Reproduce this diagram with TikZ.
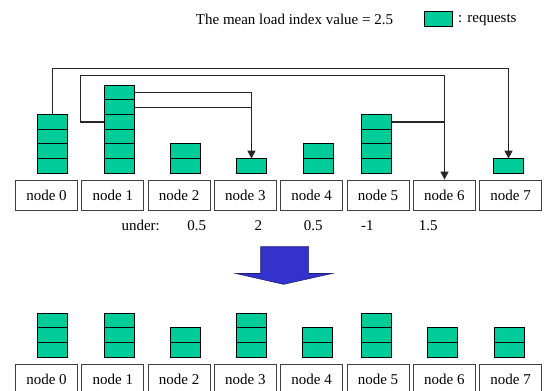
\documentclass[tikz,border=0pt]{standalone}
\usepackage{fontspec}
\setmainfont{Liberation Serif}
\usetikzlibrary{arrows.meta}
\definecolor{req}{HTML}{00CC99}
\definecolor{bigarrow}{HTML}{3333CC}
\definecolor{boxline}{HTML}{404040}
\tikzset{
  nodebox/.style={draw=boxline, line width=0.9pt, minimum width=62pt, minimum height=30pt,
    inner sep=0pt, font=\fontsize{15}{18}\selectfont},
  block/.style={draw=black, line width=0.9pt, fill=req, minimum width=30pt, minimum height=14.7pt,
    inner sep=0pt, outer sep=0pt},
  conn/.style={draw=black!85, line width=1.3pt},
  connarrow/.style={conn, -{Triangle[length=8pt,width=8pt]}},
  label/.style={font=\fontsize{15}{18}\selectfont, inner sep=0pt}
}
% a stack of request blocks: \reqstack{name}{x}{bottom y}{count}
\newcommand{\reqstack}[4]{%
  \foreach \k in {1,...,#4}{%
    \node[block, anchor=south] (#1-\k) at (#2, #3-14.7*\k+14.7) {};
  }%
}
\begin{document}
\begin{tikzpicture}[x=1pt,y=-1pt]
\useasboundingbox (0,0) rectangle (555,391);

% legend
\node[label] (mean) at (294.5,19) {The mean load index value = 2.5};
\node[block, minimum width=28pt, minimum height=14.3pt] (legbox) at (438,19) {};
\node[label, anchor=west] (legtext) at (458,19.5) {: requests};

% upper row of nodes
\foreach \i/\x in {0/46.5,1/112.8,2/179.1,3/245.4,4/311.7,5/378,6/444.3,7/510.6}{
  \node[nodebox] (t\i) at (\x,195) {node \i};
}
% lower row of nodes
\foreach \i/\x in {0/46.5,1/112.8,2/179.1,3/245.4,4/311.7,5/378,6/444.3,7/510.6}{
  \node[nodebox] (u\i) at (\x,379) {node \i};
}

% request stacks before balancing
\reqstack{a0}{52.5}{173.3}{4}
\reqstack{a1}{119}{173.3}{6}
\reqstack{a2}{185.5}{173.3}{2}
\reqstack{a3}{251.5}{173.3}{1}
\reqstack{a4}{318}{173.3}{2}
\reqstack{a5}{376.5}{173.3}{4}
\reqstack{a7}{508.5}{173.3}{1}

% request stacks after balancing
\reqstack{b0}{52.7}{357.3}{3}
\reqstack{b1}{119}{357.3}{3}
\reqstack{b2}{185.5}{357.3}{2}
\reqstack{b3}{251.7}{357.3}{3}
\reqstack{b4}{317.5}{357.3}{2}
\reqstack{b5}{376.5}{357.3}{3}
\reqstack{b6}{442.5}{357.3}{2}
\reqstack{b7}{509}{357.3}{2}

% routing levels of the migration paths
\coordinate (lvl0) at (0,68.5);
\coordinate (lvl1) at (0,75.5);
\coordinate (left1) at (80.5,0);
\coordinate (col3) at (251.5,0);
\coordinate (col6) at (444.5,0);

% node 0 -> node 7
\draw[connarrow] (a0-4.north) -- (a0-4.north |- lvl0) -- (a7-1.north |- lvl0) -- (a7-1.north);
% node 1 -> node 6
\draw[connarrow] (a1-4.west) -- (left1 |- a1-4.west) -- (left1 |- lvl1) -- (col6 |- lvl1) -- (col6 |- t6.north);
% node 1 -> node 3
\draw[connarrow] (a1-6.east) -- (col3 |- a1-6.east) -- (a3-1.north);
\draw[conn] (a1-5.east) -- (col3 |- a1-5.east);
% node 5 -> node 6
\draw[conn] (a5-4.east) -- (col6 |- a5-4.east);

% surplus of each node
\node[label] (under) at (140.7,225.7) {under:};
\node[label] (s2) at (196.7,225.7) {0.5};
\node[label] (s3) at (258.3,225.7) {2};
\node[label] (s4) at (313.3,225.7) {0.5};
\node[label] (s5) at (367.3,225.7) {-1};
\node[label] (s6) at (428.3,225.7) {1.5};

% big arrow between the two states
\draw[draw=bigarrow!60!black, line width=0.6pt, fill=bigarrow, line join=miter]
  (260.7,246.7) -- (308.6,246.7) -- (308.6,273.5) -- (332,273.5) -- (283.6,284.3)
  -- (236,273.5) -- (260.7,273.5) -- cycle;
\end{tikzpicture}
\end{document}
